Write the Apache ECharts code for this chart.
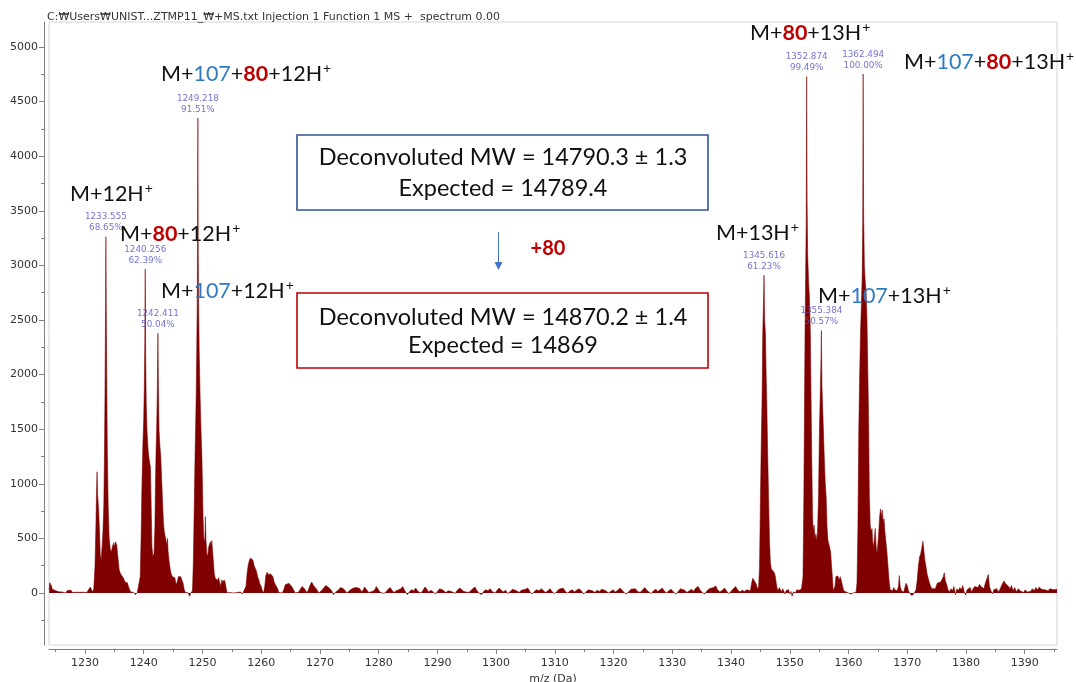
<!DOCTYPE html>
<html>
<head>
<meta charset="utf-8">
<script src="https://cdn.jsdelivr.net/npm/echarts@6/dist/echarts.min.js"></script>
<style>
  html, body { margin: 0; padding: 0; background: #ffffff; }
  #chart { width: 1076px; height: 682px; }
</style>
</head>
<body>
<div id="chart"></div>
<script>
// ---- spectrum header ----
const headerText = 'C:\u20A9Users\u20A9UNIST...ZTMP11_\u20A9+MS.txt Injection 1 Function 1 MS +  spectrum 0.00';

// ---- axis ticks ----
const mzLabelTicks = [1230, 1240, 1250, 1260, 1270, 1280, 1290, 1300, 1310, 1320, 1330, 1340, 1350, 1360, 1370, 1380, 1390];
const mzMinorTicks = [1225, 1235, 1245, 1255, 1265, 1275, 1285, 1295, 1305, 1315, 1325, 1335, 1345, 1355, 1365, 1375, 1385, 1395];
const intensityLabelTicks = [0, 500, 1000, 1500, 2000, 2500, 3000, 3500, 4000, 4500, 5000];
const intensityMinorTicks = [-250, 250, 750, 1250, 1750, 2250, 2750, 3250, 3750, 4250, 4750];
const mzRange = [1223.87, 1395.5];
const intensityRange = [-476, 5229];

// ---- profile spectrum, [m/z, intensity] ----
const baselineLeft = [
  [1223.9, 30], [1224.0, 95], [1224.1, 105], [1224.25, 70], [1224.45, 35], [1224.7, 28], [1224.95, 22],
  [1225.2, 8], [1225.5, 12], [1225.8, -5], [1226.1, 10], [1226.4, 14], [1226.7, 0], [1227.0, 22],
  [1227.3, 12], [1227.6, 26], [1227.9, 4], [1228.2, 16], [1228.5, 8], [1228.8, -8], [1229.1, 6],
  [1229.4, -12], [1229.7, 8], [1230.0, 14], [1230.3, 4]
];

const chargeState12 = [
  [1230.6, 20], [1230.9, 55], [1231.1, 50], [1231.3, 10], [1231.5, 40],
  [1231.7, 250], [1231.85, 600], [1231.95, 900], [1232.05, 1110], [1232.15, 900], [1232.3, 780],
  [1232.45, 600], [1232.6, 350], [1232.75, 300], [1232.9, 420], [1233.05, 560], [1233.2, 800],
  [1233.3, 1200], [1233.4, 1800], [1233.48, 2500], [1233.555, 3263], [1233.62, 2600], [1233.7, 2000],
  [1233.8, 1300], [1233.95, 800], [1234.1, 520], [1234.3, 400], [1234.5, 380], [1234.7, 430],
  [1234.9, 460], [1235.05, 420], [1235.2, 470], [1235.4, 440], [1235.6, 330], [1235.8, 220],
  [1236.0, 180], [1236.2, 190], [1236.4, 150], [1236.6, 130], [1236.8, 100], [1237.0, 110],
  [1237.2, 95], [1237.4, 60], [1237.6, 30], [1237.8, 10], [1238.0, 0], [1238.3, 5], [1238.6, -15],
  [1238.9, 5], [1239.2, 10],
  [1239.4, 150], [1239.55, 500], [1239.7, 1000], [1239.85, 1350], [1240.0, 1600], [1240.1, 1900],
  [1240.18, 2300], [1240.256, 2966], [1240.33, 2200], [1240.42, 1750], [1240.55, 1500], [1240.7, 1350],
  [1240.85, 1250], [1241.0, 1200], [1241.15, 1150], [1241.3, 700], [1241.4, 420], [1241.55, 340],
  [1241.75, 360], [1241.9, 600], [1242.0, 1000], [1242.1, 1300], [1242.2, 1500], [1242.3, 1800],
  [1242.411, 2379], [1242.5, 1900], [1242.6, 1500], [1242.75, 1350], [1242.9, 1250], [1243.05, 1050],
  [1243.2, 850], [1243.35, 650], [1243.5, 560], [1243.65, 520], [1243.8, 480], [1243.95, 440],
  [1244.05, 500], [1244.15, 380], [1244.3, 300], [1244.5, 220], [1244.7, 170], [1244.9, 150],
  [1245.1, 155], [1245.3, 140], [1245.5, 80], [1245.7, 100], [1245.9, 150], [1246.1, 160],
  [1246.3, 150], [1246.5, 140], [1246.7, 90], [1246.9, 30], [1247.1, 5], [1247.3, 0], [1247.5, 5],
  [1247.7, -10], [1247.85, -30], [1248.0, 0], [1248.3, 20],
  [1248.45, 300], [1248.6, 800], [1248.75, 1300], [1248.9, 1700], [1249.0, 2100], [1249.1, 2600],
  [1249.16, 3200], [1249.218, 4350], [1249.28, 3100], [1249.35, 2600], [1249.45, 2200], [1249.6, 1800],
  [1249.75, 1500], [1249.9, 1250], [1250.0, 1000], [1250.1, 700], [1250.2, 520], [1250.3, 460],
  [1250.4, 500], [1250.5, 700], [1250.6, 480], [1250.75, 360], [1250.9, 340], [1251.05, 420],
  [1251.2, 450], [1251.35, 470], [1251.5, 430], [1251.6, 480], [1251.7, 400], [1251.85, 300],
  [1252.0, 180], [1252.15, 140], [1252.35, 130], [1252.55, 115], [1252.75, 140], [1252.95, 130],
  [1253.1, 60], [1253.3, 120], [1253.5, 100], [1253.7, 120], [1253.9, 90], [1254.1, 20], [1254.3, 0],
  [1254.5, -15], [1254.7, 5], [1255.0, 10], [1255.3, 0], [1255.6, 15], [1255.9, 5], [1256.2, 20],
  [1256.5, 10], [1256.8, -10], [1257.1, 0], [1257.4, 60], [1257.6, 180], [1257.8, 260], [1258.0, 300],
  [1258.2, 320], [1258.4, 335], [1258.6, 300], [1258.8, 250], [1259.0, 260], [1259.2, 200],
  [1259.4, 150], [1259.6, 120], [1259.8, 80], [1260.0, 60], [1260.2, 20], [1260.4, 0], [1260.6, 60],
  [1260.8, 160], [1261.0, 190], [1261.2, 170], [1261.4, 185], [1261.6, 175], [1261.8, 180],
  [1262.0, 150], [1262.2, 100], [1262.5, 70], [1262.8, 40], [1263.0, 5]
];

const baselineMid = [
  [1263.3, 10], [1263.6, 0], [1263.9, 40], [1264.1, 75], [1264.4, 60], [1264.7, 90], [1264.9, 100],
  [1265.2, 60], [1265.5, 30], [1265.8, 0], [1266.1, -10], [1266.4, 10], [1266.7, 40], [1267.0, 60],
  [1267.2, 75], [1267.5, 30], [1267.8, 0], [1268.1, 40], [1268.4, 80], [1268.6, 100], [1268.9, 70],
  [1269.2, 75], [1269.5, 30], [1269.8, 0], [1270.1, 10], [1270.4, 30], [1270.7, 50], [1271.0, 70],
  [1271.2, 75], [1271.5, 50], [1271.7, 60], [1272.0, 20], [1272.3, -15], [1272.6, 5], [1272.9, 20],
  [1273.2, 30], [1273.5, 50], [1273.7, 60], [1274.0, 40], [1274.3, 20], [1274.6, 0], [1274.9, 10],
  [1275.2, 30], [1275.5, 40], [1275.7, 45], [1276.0, 30], [1276.3, 50], [1276.55, 60], [1276.8, 40],
  [1277.1, 10], [1277.4, 30], [1277.6, 55], [1277.9, 35], [1278.3, 5], [1278.6, -10], [1278.9, 15],
  [1279.3, 25], [1279.6, 60], [1279.8, 45], [1280.2, 10], [1280.5, 20], [1280.9, -5], [1281.3, 15],
  [1281.6, 35], [1282.0, 50], [1282.2, 30], [1282.6, 5], [1283.0, 20], [1283.3, 15], [1283.8, 40],
  [1284.1, 60], [1284.4, 25], [1284.9, -15], [1285.2, 10], [1285.6, 30], [1286.0, 20], [1286.3, 45],
  [1286.7, 15], [1287.2, 0], [1287.5, 20], [1287.9, 55], [1288.2, 35], [1288.5, 10], [1288.9, 25],
  [1289.3, 10], [1289.7, -10], [1290.0, 15], [1290.4, 40], [1290.7, 50], [1291.0, 25], [1291.4, 5],
  [1291.9, 20], [1292.2, 30], [1292.6, 10], [1293.0, -5], [1293.3, 20], [1293.8, 45], [1294.1, 30],
  [1294.5, 15], [1294.8, 30], [1295.3, 5], [1295.7, 20], [1296.0, 40], [1296.4, 55], [1296.7, 25],
  [1297.1, 0], [1297.5, -15], [1297.8, 10], [1298.2, 30], [1298.6, 20], [1299.0, 40], [1299.3, 15],
  [1299.8, 0], [1300.1, 20], [1300.5, 45], [1300.8, 30], [1301.2, 10], [1301.6, 25], [1302.0, -5],
  [1302.4, 15], [1302.8, 35], [1303.1, 50], [1303.5, 20], [1303.9, 5], [1304.3, 25], [1304.6, 15],
  [1305.0, 35], [1305.4, 45], [1305.8, 10], [1306.1, -10], [1306.5, 15], [1306.9, 30], [1307.3, 20],
  [1307.7, 40], [1308.0, 25], [1308.4, 5], [1308.8, 20], [1309.2, 40], [1309.5, 15], [1309.9, -5],
  [1310.3, 10], [1310.7, 35], [1311.0, 25], [1311.4, 45], [1311.8, 15], [1312.2, 0], [1312.6, 20],
  [1313.0, 30], [1313.3, 10], [1313.7, 25], [1314.1, 40], [1314.5, 20], [1314.9, -10], [1315.3, 10],
  [1315.7, 30], [1316.0, 45], [1316.4, 20], [1316.8, 5], [1317.2, 25], [1317.6, 15], [1318.0, 35],
  [1318.3, 50], [1318.7, 20], [1319.1, 0], [1319.5, 15], [1319.9, 30], [1320.3, 10], [1320.7, 25],
  [1321.1, 45], [1321.4, 30], [1321.8, 5], [1322.2, -10], [1322.6, 15], [1323.0, 35], [1323.3, 20],
  [1323.7, 40], [1324.1, 15], [1324.5, 5], [1324.9, 25], [1325.3, 50], [1325.6, 30], [1326.0, 10],
  [1326.4, -5], [1326.8, 20], [1327.2, 35], [1327.5, 15], [1327.9, 30], [1328.3, 45], [1328.6, 20],
  [1329.0, 0], [1329.4, 20], [1329.8, 35], [1330.2, 10], [1330.6, -10], [1331.0, 15], [1331.4, 40],
  [1331.7, 55], [1332.1, 25], [1332.5, 5], [1332.9, 20], [1333.3, 35], [1333.6, 15], [1334.0, 45],
  [1334.4, 60], [1334.7, 30], [1335.1, 5], [1335.5, -10], [1335.9, 20], [1336.3, 40], [1336.6, 25],
  [1337.0, 50], [1337.4, 65], [1337.7, 30], [1338.1, 10], [1338.5, 25], [1338.9, 45], [1339.2, 20],
  [1339.6, -5], [1340.0, 15], [1340.4, 40], [1340.8, 60], [1341.1, 30], [1341.5, 10], [1341.9, 25],
  [1342.3, 15], [1342.7, 30], [1343.0, 20]
];

const chargeState13 = [
  [1343.3, 20], [1343.5, 90], [1343.7, 135], [1343.9, 130], [1344.1, 100], [1344.3, 80], [1344.5, 40],
  [1344.7, 60], [1344.85, 240], [1345.0, 850], [1345.15, 1400], [1345.28, 1770], [1345.4, 2380],
  [1345.5, 2600], [1345.616, 2910], [1345.72, 2500], [1345.85, 2380], [1345.98, 2000], [1346.1, 1700],
  [1346.25, 1250], [1346.4, 850], [1346.55, 480], [1346.7, 280], [1346.85, 220], [1347.0, 215],
  [1347.2, 200], [1347.4, 180], [1347.55, 150], [1347.7, 90], [1347.85, 40], [1348.0, 20],
  [1348.2, 50], [1348.4, 40], [1348.6, 10], [1348.8, 40], [1349.0, 30], [1349.2, -10], [1349.4, 25],
  [1349.6, 10], [1349.8, 30], [1350.0, -10], [1350.2, 15], [1350.4, -30], [1350.6, 10], [1350.8, 20],
  [1351.0, 5], [1351.2, 30], [1351.4, 15], [1351.6, 25], [1351.8, 10], [1352.0, 40],
  [1352.1, 30], [1352.25, 150], [1352.4, 900], [1352.5, 1700], [1352.6, 2400], [1352.7, 2900],
  [1352.8, 3400], [1352.874, 4729], [1352.95, 3600], [1353.05, 3100], [1353.2, 2850], [1353.35, 2700],
  [1353.5, 2400], [1353.62, 1800], [1353.75, 1200], [1353.88, 700], [1354.0, 560], [1354.15, 620],
  [1354.3, 500], [1354.45, 540], [1354.6, 470], [1354.75, 600], [1354.9, 900], [1355.05, 1500],
  [1355.18, 1800], [1355.3, 2100], [1355.384, 2404], [1355.48, 1900], [1355.6, 1700], [1355.75, 1450],
  [1355.9, 1200], [1356.05, 1000], [1356.2, 880], [1356.35, 600], [1356.5, 480], [1356.65, 450],
  [1356.8, 460], [1356.95, 380], [1357.1, 260], [1357.25, 150], [1357.4, 20], [1357.55, 10],
  [1357.7, 60], [1357.85, 150], [1358.0, 140], [1358.2, 155], [1358.4, 120], [1358.6, 150],
  [1358.8, 110], [1359.0, 60], [1359.2, 20], [1359.4, 30], [1359.6, 10], [1359.8, 20], [1360.0, 0],
  [1360.2, 10], [1360.4, -10], [1360.6, -25], [1360.8, 0], [1361.0, 10],
  [1361.3, 10], [1361.45, 100], [1361.6, 600], [1361.75, 1500], [1361.9, 2000], [1362.05, 2400],
  [1362.2, 2650], [1362.33, 2900], [1362.42, 3400], [1362.494, 4753], [1362.57, 3500], [1362.7, 3000],
  [1362.85, 2850], [1363.0, 2750], [1363.15, 2500], [1363.3, 2000], [1363.42, 1600], [1363.55, 900],
  [1363.7, 620], [1363.85, 560], [1364.0, 590], [1364.1, 480], [1364.25, 420], [1364.4, 500],
  [1364.55, 590], [1364.7, 430], [1364.85, 360], [1365.0, 450], [1365.15, 560], [1365.3, 700],
  [1365.45, 770], [1365.6, 700], [1365.75, 760], [1365.9, 650], [1366.05, 680], [1366.2, 560],
  [1366.35, 480], [1366.5, 400], [1366.65, 300], [1366.8, 190], [1366.95, 90], [1367.1, 30],
  [1367.3, 40], [1367.5, 20], [1367.7, 50], [1367.9, 30], [1368.1, 40], [1368.3, 20], [1368.5, 60],
  [1368.65, 160], [1368.8, 60], [1369.0, 20], [1369.2, 30], [1369.4, 10], [1369.6, 50], [1369.8, 90],
  [1370.0, 70], [1370.2, 20], [1370.4, 0], [1370.6, -10], [1370.8, -25], [1371.0, -40], [1371.2, 0],
  [1371.5, 30], [1371.7, 120], [1371.9, 250], [1372.1, 330], [1372.3, 360], [1372.5, 420],
  [1372.68, 475], [1372.85, 380], [1373.0, 300], [1373.2, 240], [1373.4, 170], [1373.6, 130],
  [1373.8, 90], [1374.0, 60], [1374.2, 40], [1374.5, 30]
];

const baselineRight = [
  [1374.8, 40], [1375.1, 90], [1375.4, 80], [1375.7, 100], [1375.95, 110], [1376.15, 150], [1376.3, 185],
  [1376.5, 110], [1376.7, 80], [1376.95, 30], [1377.2, 10], [1377.45, 40], [1377.7, 20], [1377.95, 60],
  [1378.2, -15], [1378.45, 40], [1378.7, 20], [1378.95, 50], [1379.2, 30], [1379.45, 70], [1379.7, 10],
  [1379.95, -20], [1380.2, 30], [1380.45, 20], [1380.7, 50], [1380.95, 10], [1381.2, 40], [1381.5, 60],
  [1381.8, 70], [1382.05, 50], [1382.3, 80], [1382.55, 60], [1382.8, 70], [1383.05, 40], [1383.3, 90],
  [1383.55, 80], [1383.8, 170], [1384.0, 60], [1384.25, 20], [1384.5, -10], [1384.75, 30], [1385.0, 20],
  [1385.25, 40], [1385.5, 10], [1385.75, 30], [1386.0, 60], [1386.25, 90], [1386.5, 110], [1386.75, 85],
  [1387.0, 90], [1387.25, 60], [1387.5, 40], [1387.75, 70], [1388.0, 20], [1388.3, 50], [1388.6, 10],
  [1388.9, 40], [1389.2, 20], [1389.5, 35], [1389.8, 5], [1390.1, 30], [1390.4, 10], [1390.7, 25],
  [1391.0, 15], [1391.3, 40], [1391.6, 20], [1391.9, 50], [1392.2, 30], [1392.5, 55], [1392.8, 35],
  [1393.1, 50], [1393.4, 30], [1393.7, 45], [1394.0, 20], [1394.3, 40], [1394.6, 35], [1394.9, 30],
  [1395.2, 40], [1395.5, 35]
];

// ---- labelled centroids (m/z, % of base peak) ----
const basePeakIntensity = 4753;
const centroidMz = ['1233.555', '1240.256', '1242.411', '1249.218', '1345.616', '1352.874', '1355.384', '1362.494'];
const centroidPercent = ['68.65', '62.39', '50.04', '91.51', '61.23', '99.49', '50.57', '100.00'];

// ---- ion assignments and deconvolution results ----
const ionLabels = [
  '{k|M+}{b|107}{k|+}{r|80}{k|+12H}{s|+}',
  '{k|M+12H}{s|+}',
  '{k|M+}{r|80}{k|+12H}{s|+}',
  '{k|M+}{b|107}{k|+12H}{s|+}',
  '{k|M+}{r|80}{k|+13H}{s|+}',
  '{k|M+}{b|107}{k|+}{r|80}{k|+13H}{s|+}',
  '{k|M+13H}{s|+}',
  '{k|M+}{b|107}{k|+13H}{s|+}'
];
const resultLines = [
  'Deconvoluted MW = 14790.3 \u00B1 1.3', 'Expected = 14789.4',
  'Deconvoluted MW = 14870.2 \u00B1 1.4', 'Expected = 14869'
];
const shiftLabel = '+80';

const spectrum = baselineLeft.concat(chargeState12, baselineMid, chargeState13, baselineRight);
const centroids = centroidMz.map((m, i) => [parseFloat(m), parseFloat(centroidPercent[i]) / 100 * basePeakIntensity]);

const annFont = 'Lato, "Open Sans", sans-serif';
const ionSize = 21.5;
const ionRich = {
  k: { fontFamily: annFont, fontSize: ionSize, fill: '#111111', lineHeight: 26 },
  b: { fontFamily: annFont, fontSize: ionSize, fill: '#2e7bc4', lineHeight: 26 },
  r: { fontFamily: annFont, fontSize: ionSize, fill: '#c00000', fontWeight: 'bold', lineHeight: 26 },
  s: { fontFamily: annFont, fontSize: 14, fill: '#111111', lineHeight: 26, padding: [0, 0, 11, 1] }
};
// left edge / vertical centre of each ion label
const ionPos = [[161, 74], [70, 194], [120, 234], [161, 291], [750, 33], [904, 62], [716, 233], [818, 296]];

const graphics = [];
ionLabels.forEach((t, i) => {
  graphics.push({
    type: 'text', x: ionPos[i][0], y: ionPos[i][1], z: 100,
    style: { text: t, rich: ionRich, align: 'left', verticalAlign: 'middle' }
  });
});
graphics.push(
  { type: 'rect', z: 90, shape: { x: 297, y: 135, width: 411, height: 75 },
    style: { fill: '#ffffff', stroke: '#2f5597', lineWidth: 1.6 } },
  { type: 'rect', z: 90, shape: { x: 297, y: 293, width: 411, height: 75 },
    style: { fill: '#ffffff', stroke: '#c00000', lineWidth: 1.6 } },
  { type: 'line', z: 90, shape: { x1: 498.5, y1: 232, x2: 498.5, y2: 263 },
    style: { stroke: '#4472c4', lineWidth: 1 } },
  { type: 'polygon', z: 90, shape: { points: [[494.5, 262], [502.5, 262], [498.5, 270]] },
    style: { fill: '#4472c4' } }
);
const resultPos = [[503, 157], [503, 188], [503, 317], [503, 345]];
resultLines.forEach((t, i) => {
  graphics.push({
    type: 'text', x: resultPos[i][0], y: resultPos[i][1], z: 100,
    style: { text: t, fontFamily: annFont, fontSize: 23.5, fill: '#111111', align: 'center', verticalAlign: 'middle' }
  });
});
graphics.push({
  type: 'text', x: 548, y: 249, z: 100,
  style: { text: shiftLabel, fontFamily: annFont, fontSize: 20, fontWeight: 'bold', fill: '#c00000', align: 'center', verticalAlign: 'middle' }
});

const axisFont = '"DejaVu Sans", sans-serif';
const axisGrey = '#808080';
const plainNumber = (v) => String(v);

const chart = echarts.init(document.getElementById('chart'), null, { renderer: 'canvas' });
chart.setOption({
  animation: false,
  backgroundColor: '#ffffff',
  title: {
    text: headerText, left: 42, top: 7,
    textStyle: { fontFamily: axisFont, fontSize: 11, fontWeight: 'normal', color: '#333333' }
  },
  grid: {
    left: 49, right: 19, top: 22, bottom: 37,
    outerBoundsMode: 'none', containLabel: false,
    show: true, borderColor: '#d4d4d4', borderWidth: 1, backgroundColor: '#ffffff'
  },
  xAxis: [
    {
      type: 'value', min: mzRange[0], max: mzRange[1], position: 'bottom', offset: 4,
      name: 'm/z (Da)', nameLocation: 'middle', nameGap: 21,
      nameTextStyle: { fontFamily: axisFont, fontSize: 11, color: '#333333' },
      axisLine: { show: true, onZero: false, lineStyle: { color: axisGrey, width: 1 } },
      axisTick: { show: true, customValues: mzLabelTicks, length: 5, lineStyle: { color: axisGrey } },
      axisLabel: { customValues: mzLabelTicks, formatter: plainNumber, fontFamily: axisFont, fontSize: 11, color: '#333333', margin: 9 },
      splitLine: { show: false }
    },
    {
      type: 'value', min: mzRange[0], max: mzRange[1], position: 'bottom', offset: 4,
      axisLine: { show: false, onZero: false },
      axisTick: { show: true, customValues: mzMinorTicks, length: 3, lineStyle: { color: axisGrey } },
      axisLabel: { show: false },
      splitLine: { show: false }
    }
  ],
  yAxis: [
    {
      type: 'value', min: intensityRange[0], max: intensityRange[1], position: 'left', offset: 5,
      axisLine: { show: true, onZero: false, lineStyle: { color: axisGrey, width: 1 } },
      axisTick: { show: true, customValues: intensityLabelTicks, length: 5, lineStyle: { color: axisGrey } },
      axisLabel: { customValues: intensityLabelTicks, formatter: plainNumber, fontFamily: axisFont, fontSize: 11, color: '#333333', margin: 6 },
      splitLine: { show: false }
    },
    {
      type: 'value', min: intensityRange[0], max: intensityRange[1], position: 'left', offset: 5,
      axisLine: { show: false, onZero: false },
      axisTick: { show: true, customValues: intensityMinorTicks, length: 3, lineStyle: { color: axisGrey } },
      axisLabel: { show: false },
      splitLine: { show: false }
    }
  ],
  series: [
    {
      type: 'line', xAxisIndex: 0, yAxisIndex: 0, data: spectrum,
      showSymbol: false, symbol: 'none', smooth: false, sampling: null,
      lineStyle: { color: '#800000', width: 1, opacity: 0.55 },
      areaStyle: { color: '#800000', opacity: 1, origin: 0 },
      z: 2
    },
    {
      type: 'scatter', xAxisIndex: 0, yAxisIndex: 0, data: centroids,
      symbolSize: 0, silent: true, z: 5,
      label: {
        show: true, position: 'top', distance: 3,
        fontFamily: axisFont, fontSize: 8.8, lineHeight: 11, color: '#5050c8',
        formatter: (p) => centroidMz[p.dataIndex] + '\n' + centroidPercent[p.dataIndex] + '%'
      }
    }
  ],
  graphic: graphics
});
</script>
</body>
</html>
